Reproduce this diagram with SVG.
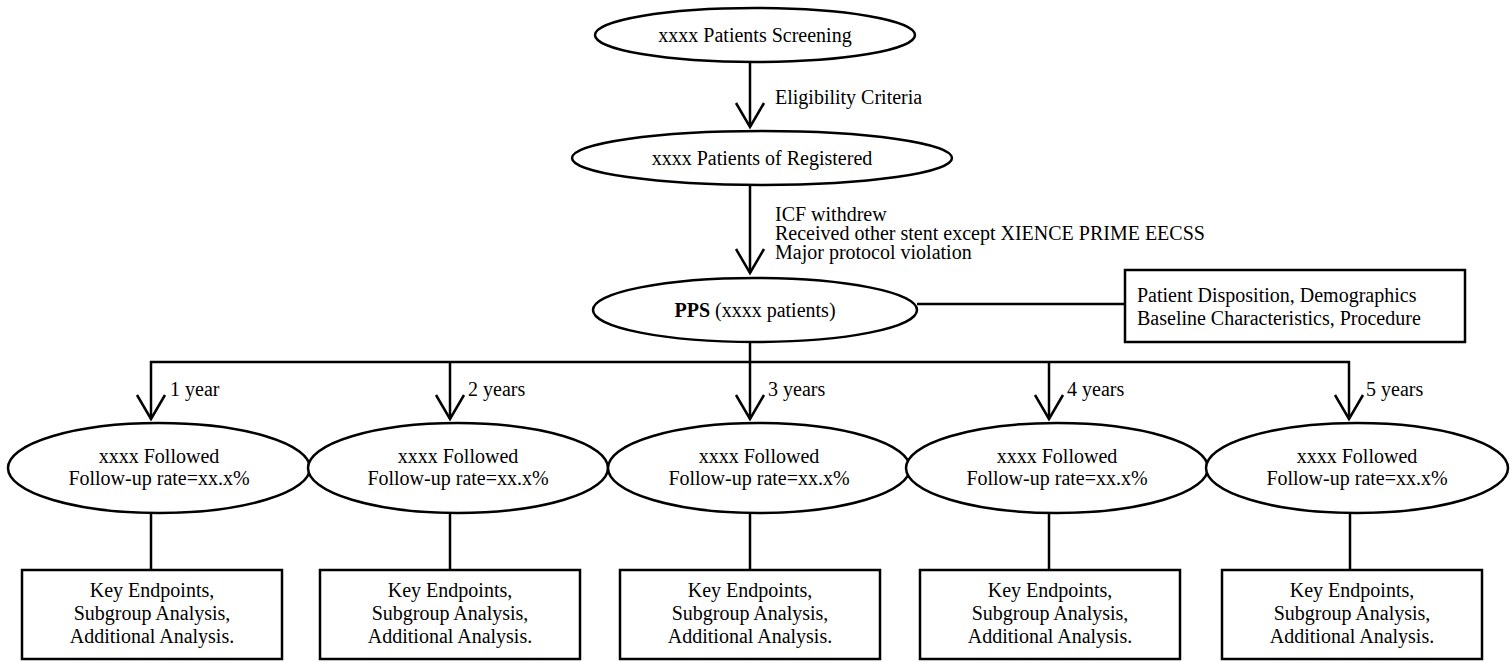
<svg xmlns="http://www.w3.org/2000/svg" width="1511" height="662" viewBox="0 0 1511 662">
<style>
.s{fill:#fff;stroke:#000;stroke-width:2.5}
.c{fill:none;stroke:#000;stroke-width:2.5}
text{font-family:"Liberation Serif","Times New Roman",serif;font-size:20px;fill:#000}
.m{text-anchor:middle}
</style>
<defs>
<marker id="ah" markerUnits="userSpaceOnUse" markerWidth="32" markerHeight="32" viewBox="0 0 32 32" refX="27" refY="16" orient="auto">
<path d="M3,2 L27,16 L3,30" fill="none" stroke="#000" stroke-width="2.5"/>
</marker>
</defs>
<g id="connectors">
<line class="c" x1="750" y1="62" x2="750" y2="127" marker-end="url(#ah)"/>
<line class="c" x1="750" y1="185" x2="750" y2="273" marker-end="url(#ah)"/>
<line class="c" x1="917" y1="304" x2="1125" y2="304"/>
<line class="c" x1="750" y1="342" x2="750" y2="362"/>
<line class="c" x1="150" y1="362" x2="1350" y2="362"/>
<line class="c" x1="151" y1="361" x2="151" y2="419" marker-end="url(#ah)"/>
<line class="c" x1="450" y1="362" x2="450" y2="419" marker-end="url(#ah)"/>
<line class="c" x1="750" y1="362" x2="750" y2="419" marker-end="url(#ah)"/>
<line class="c" x1="1049" y1="362" x2="1049" y2="419" marker-end="url(#ah)"/>
<line class="c" x1="1349" y1="361" x2="1349" y2="419" marker-end="url(#ah)"/>
<line class="c" x1="151" y1="513" x2="151" y2="570"/>
<line class="c" x1="450" y1="513" x2="450" y2="570"/>
<line class="c" x1="750" y1="513" x2="750" y2="570"/>
<line class="c" x1="1049" y1="513" x2="1049" y2="570"/>
<line class="c" x1="1350" y1="513" x2="1350" y2="570"/>
<text x="775" y="104">Eligibility Criteria</text>
<text x="775" y="221">ICF withdrew</text>
<text x="775" y="240">Received other stent except XIENCE PRIME EECSS</text>
<text x="775" y="259">Major protocol violation</text>
<text x="170" y="396">1 year</text>
<text x="468" y="396">2 years</text>
<text x="768" y="396">3 years</text>
<text x="1067" y="396">4 years</text>
<text x="1366" y="396">5 years</text>
</g>
<g id="screening">
<ellipse class="s" cx="755" cy="35" rx="160" ry="27"/>
<text class="m" x="755" y="42">xxxx Patients Screening</text>
</g>
<g id="registered">
<ellipse class="s" cx="762" cy="158" rx="190" ry="27"/>
<text class="m" x="762" y="165">xxxx Patients of Registered</text>
</g>
<g id="pps">
<ellipse class="s" cx="755" cy="310" rx="162" ry="32"/>
<text class="m" x="755" y="317"><tspan font-weight="bold">PPS</tspan> (xxxx patients)</text>
</g>
<g id="disposition">
<rect class="s" x="1125" y="270" width="340" height="72"/>
<text x="1137" y="302">Patient Disposition, Demographics</text>
<text x="1137" y="325">Baseline Characteristics, Procedure</text>
</g>
<g id="f1">
<ellipse class="s" cx="159" cy="468" rx="151" ry="45"/>
<text class="m" x="159" y="463">xxxx Followed</text>
<text class="m" x="159" y="485">Follow-up rate=xx.x%</text>
</g>
<g id="f2">
<ellipse class="s" cx="458" cy="468" rx="150" ry="45"/>
<text class="m" x="458" y="463">xxxx Followed</text>
<text class="m" x="458" y="485">Follow-up rate=xx.x%</text>
</g>
<g id="f3">
<ellipse class="s" cx="759" cy="468" rx="151" ry="45"/>
<text class="m" x="759" y="463">xxxx Followed</text>
<text class="m" x="759" y="485">Follow-up rate=xx.x%</text>
</g>
<g id="f4">
<ellipse class="s" cx="1057" cy="468" rx="151" ry="45"/>
<text class="m" x="1057" y="463">xxxx Followed</text>
<text class="m" x="1057" y="485">Follow-up rate=xx.x%</text>
</g>
<g id="f5">
<ellipse class="s" cx="1357" cy="468" rx="151" ry="45"/>
<text class="m" x="1357" y="463">xxxx Followed</text>
<text class="m" x="1357" y="485">Follow-up rate=xx.x%</text>
</g>
<g id="b1">
<rect class="s" x="22" y="570" width="260" height="89"/>
<text class="m" x="152" y="597">Key Endpoints,</text>
<text class="m" x="152" y="620">Subgroup Analysis,</text>
<text class="m" x="152" y="643">Additional Analysis.</text>
</g>
<g id="b2">
<rect class="s" x="320" y="570" width="260" height="89"/>
<text class="m" x="450" y="597">Key Endpoints,</text>
<text class="m" x="450" y="620">Subgroup Analysis,</text>
<text class="m" x="450" y="643">Additional Analysis.</text>
</g>
<g id="b3">
<rect class="s" x="620" y="570" width="260" height="89"/>
<text class="m" x="750" y="597">Key Endpoints,</text>
<text class="m" x="750" y="620">Subgroup Analysis,</text>
<text class="m" x="750" y="643">Additional Analysis.</text>
</g>
<g id="b4">
<rect class="s" x="920" y="570" width="260" height="89"/>
<text class="m" x="1050" y="597">Key Endpoints,</text>
<text class="m" x="1050" y="620">Subgroup Analysis,</text>
<text class="m" x="1050" y="643">Additional Analysis.</text>
</g>
<g id="b5">
<rect class="s" x="1222" y="570" width="260" height="89"/>
<text class="m" x="1352" y="597">Key Endpoints,</text>
<text class="m" x="1352" y="620">Subgroup Analysis,</text>
<text class="m" x="1352" y="643">Additional Analysis.</text>
</g>
</svg>
